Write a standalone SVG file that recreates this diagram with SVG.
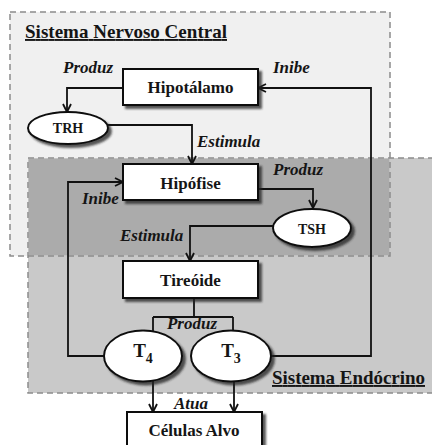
<svg xmlns="http://www.w3.org/2000/svg" width="432" height="445" viewBox="0 0 432 445">
<style>
.region{stroke:#8c8c8c;stroke-width:1.5;stroke-dasharray:6 4}
.box{fill:#fff;stroke:#111;stroke-width:2;filter:url(#sh)}
.node{font-family:"Liberation Serif",serif;font-weight:bold;fill:#151515;text-anchor:middle}
.lbl{font-family:"Liberation Serif",serif;font-weight:bold;font-style:italic;font-size:17px;fill:#151515}
.title{font-family:"Liberation Serif",serif;font-weight:bold;font-size:19px;fill:#151515;text-decoration:underline}
.con{fill:none;stroke:#111;stroke-width:1.8}
.arr{marker-end:url(#ah)}
</style>
<defs>
<filter id="sh" x="-20%" y="-20%" width="150%" height="150%">
<feDropShadow dx="3" dy="3" stdDeviation="1" flood-color="#222" flood-opacity="0.75"/>
</filter>
<marker id="ah" viewBox="0 0 10 10" refX="9" refY="5" markerWidth="10" markerHeight="10" markerUnits="userSpaceOnUse" orient="auto">
<path d="M1,1 L9,5 L1,9" fill="none" stroke="#111" stroke-width="1.8"/>
</marker>
</defs>
<rect width="432" height="445" fill="#fff"/>
<g id="regions">
<rect id="snc" class="region" x="10" y="12" width="380" height="244" fill="#f0f0f0"/>
<rect id="endo" class="region" x="28" y="158" width="420" height="235" fill="#c9c9c9"/>
<rect x="28.8" y="158.8" width="360.4" height="96.4" fill="#ababab"/>
<path class="region" d="M28,256 H390 V158" fill="none"/>
</g>
<g id="titles">
<text class="title" x="25" y="38" textLength="202">Sistema Nervoso Central</text>
<text class="title" x="272" y="384" textLength="153">Sistema Endócrino</text>
</g>
<g id="connectors">
<path class="con arr" d="M123,88 H67 V112"/>
<path class="con arr" d="M108,125 H192 V164"/>
<path class="con arr" d="M258,189 H313 V208"/>
<path class="con arr" d="M273,226 H190 V261"/>
<path class="con" d="M194,298 V317 M153,317 H233 M153,317 V340 M233,317 V340"/>
<path class="con arr" d="M104,356 H68 V182 H123"/>
<path class="con arr" d="M272,356 H371 V88 H258"/>
<path class="con arr" d="M153,380 V412"/>
<path class="con arr" d="M234,380 V412"/>
</g>
<g id="hipotalamo">
<rect class="box" x="123" y="69" width="135" height="36"/>
<text class="node" x="190.5" y="93" font-size="17">Hipotálamo</text>
</g>
<g id="trh">
<ellipse class="box" cx="68" cy="128" rx="40" ry="16"/>
<text class="node" x="68" y="133" font-size="14">TRH</text>
</g>
<g id="hipofise">
<rect class="box" x="123" y="164" width="135" height="36"/>
<text class="node" x="190.5" y="189" font-size="17">Hipófise</text>
</g>
<g id="tsh">
<ellipse class="box" cx="312" cy="228" rx="39" ry="19"/>
<text class="node" x="312" y="234" font-size="14">TSH</text>
</g>
<g id="tireoide">
<rect class="box" x="123" y="261" width="135" height="37"/>
<text class="node" x="190.5" y="286" font-size="17">Tireóide</text>
</g>
<g id="t4">
<ellipse class="box" cx="143" cy="356" rx="39" ry="25.5"/>
<text class="node" x="143" y="357" font-size="19">T<tspan font-size="14" dy="6">4</tspan></text>
</g>
<g id="t3">
<ellipse class="box" cx="231" cy="356" rx="40" ry="25.5"/>
<text class="node" x="231" y="357" font-size="19">T<tspan font-size="14" dy="6">3</tspan></text>
</g>
<g id="celulas">
<rect class="box" x="127" y="412" width="135" height="40"/>
<text class="node" x="194" y="436" font-size="17">Células Alvo</text>
</g>
<g id="labels">
<text class="lbl" x="63" y="73">Produz</text>
<text class="lbl" x="273" y="73">Inibe</text>
<text class="lbl" x="197" y="147">Estimula</text>
<text class="lbl" x="273" y="175">Produz</text>
<text class="lbl" x="82" y="204">Inibe</text>
<text class="lbl" x="120" y="241">Estimula</text>
<text class="lbl" x="192" y="329" text-anchor="middle">Produz</text>
<text class="lbl" x="191" y="409" text-anchor="middle">Atua</text>
</g>
</svg>
